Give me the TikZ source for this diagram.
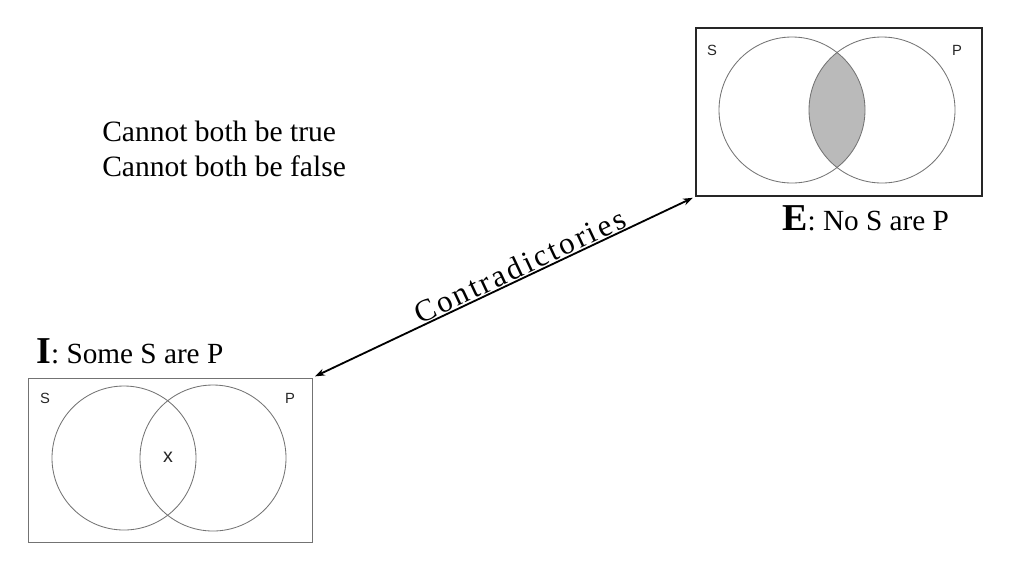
\documentclass[tikz,border=0pt]{standalone}
\usepackage{fontspec}
\setmainfont{Liberation Serif}
\setsansfont{Liberation Sans}
\usetikzlibrary{arrows.meta}
\newcommand{\bigletter}[1]{{\fontsize{27}{30}\selectfont\textbf{#1}}}

\tikzset{
	vennbox/.style={draw,inner sep=0pt},
	venncircle/.style={draw=black!55,line width=0.6pt},
	setlabel/.style={font=\sffamily\fontsize{10.5}{12}\selectfont,text=black!85},
	claim/.style={font=\fontsize{20.8}{24}\selectfont,anchor=base west,inner sep=0pt},
}

\begin{document}
\begin{tikzpicture}[x=0.025cm,y=-0.025cm]
	\useasboundingbox (0,0) rectangle (1024,575);
	\node[claim,font=\fontsize{21}{24}\selectfont] (bothtrue) at (102,141.7) {Cannot both be true};
	\node[claim,font=\fontsize{21}{24}\selectfont] (bothfalse) at (102,176.7) {Cannot both be false};
	\node[vennbox,draw=black!85,line width=0.8pt,minimum width=7.15cm,minimum height=4.2cm] (Ebox) at (839,112) {};
	\begin{scope}
		\clip (792,110) circle (73);
		\fill[black!27] (882,110) circle (73);
	\end{scope}
	\draw[venncircle] (792,110) circle (73);
	\draw[venncircle] (882,110) circle (73);
	\node[setlabel] (ES) at (712,50) {S};
	\node[setlabel] (EP) at (957,50) {P};
	\node[claim] (Elabel) at (782,230) {\bigletter{E}: No S are P};
	\node[vennbox,draw=black!55,line width=0.6pt,minimum width=7.1cm,minimum height=4.1cm] (Ibox) at (170,460) {};
	\draw[venncircle] (124,458) circle (72);
	\draw[venncircle] (213,458) circle (73);
	\node[setlabel] (IS) at (45,398) {S};
	\node[setlabel] (IP) at (290,398) {P};
	\node[font=\sffamily\fontsize{14}{15}\selectfont,text=black!85] (Imark) at (168,457) {x};
	\node[claim] (Ilabel) at (36,363) {\bigletter{I}: Some S are P};
	\draw[{Stealth[length=7pt,width=5pt]}-{Stealth[length=7pt,width=5pt]},line width=1.3pt,shorten <=2pt,shorten >=2pt] (Ibox.north east) -- node[sloped,above,pos=0.555,inner sep=0.5pt,font=\fontsize{22}{24}\selectfont] (contra) {\addfontfeature{LetterSpace=9}Contradictories} (Ebox.south west);
\end{tikzpicture}
\end{document}
